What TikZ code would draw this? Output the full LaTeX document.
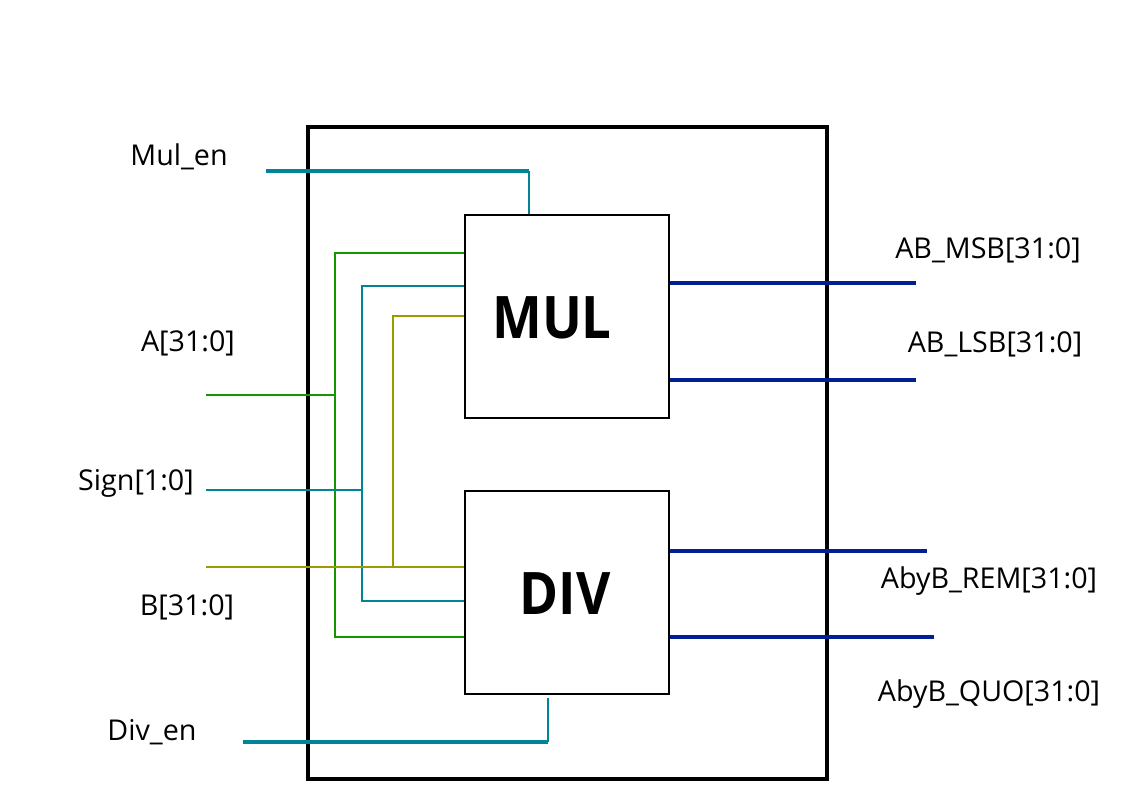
\documentclass[tikz,border=0pt]{standalone}
\usepackage{fontspec}
\setmainfont{Open Sans}
\begin{document}
\begin{tikzpicture}[x=0.75pt,y=-0.75pt,
  lbl/.style={font=\fontsize{21.5}{24}\selectfont, inner sep=0pt},
  unit/.style={draw=black, line width=1.2pt, fill=white, minimum width=153pt, minimum height=152.5pt, inner sep=0pt},
  big/.style={font=\bfseries\fontsize{44}{48}\selectfont, xscale=0.9},
  tealw/.style={draw=tealc, line width=1.6pt},
  tealk/.style={draw=tealc, line width=2.8pt},
  greenw/.style={draw=greenc, line width=2.1pt},
  olivew/.style={draw=olivec, line width=1.9pt},
  bluew/.style={draw=bluec, line width=2.7pt},
]
\definecolor{tealc}{RGB}{0,133,150}
\definecolor{greenc}{RGB}{20,150,0}
\definecolor{olivec}{RGB}{155,155,0}
\definecolor{bluec}{RGB}{0,32,145}
\useasboundingbox (0,0) rectangle (1123,794);
% outer block
\draw[line width=3pt] (308,127) rectangle (827,779);
% units
\node[unit] (mul) at (567,316.5) {};
\node[unit] (div) at (567,592.5) {};
\node[big] (tmul) at (552,318) {MUL};
\node[big] (tdivb) at (565,594) {DIV};
% free ends and junctions
\coordinate (mulen) at (266,171);
\coordinate (mulenc) at (529,171);
\coordinate (ain) at (206,395);
\coordinate (aj) at (335,395);
\coordinate (sin) at (206,490);
\coordinate (sj) at (362,490);
\coordinate (bin) at (206,567);
\coordinate (bj) at (393,567);
\coordinate (diven) at (243,742);
\coordinate (divenc) at (548,742);
\coordinate (o1) at (916,283);
\coordinate (o2) at (916,380);
\coordinate (o3) at (927,551);
\coordinate (o4) at (934,637);
% Mul_en
\draw[tealk] (mulen) -- (mulenc);
\draw[tealw, line width=1.3pt] (mulenc) -- (mulenc |- mul.north);
% Div_en
\draw[tealk] (diven) -- (divenc);
\draw[tealw, line width=1.3pt] (divenc) -- (548,698);
% A
\draw[greenw, line width=1.6pt] (ain) -- (aj);
\draw[greenw] (mul.west |- 0,253) -- (335,253) -- (335,637) -- (div.west |- 0,637);
% Sign
\draw[tealw, line width=1.4pt] (sin) -- (sj);
\draw[tealw] (mul.west |- 0,286) -- (362,286) -- (362,601) -- (div.west |- 0,601);
% B
\draw[olivew, line width=1.6pt] (bin) -- (div.west |- bin);
\draw[olivew] (mul.west |- 0,316) -- (393,316) -- (bj);
% outputs
\draw[bluew] (mul.east |- o1) -- (o1);
\draw[bluew] (mul.east |- o2) -- (o2);
\draw[bluew] (div.east |- o3) -- (o3);
\draw[bluew] (div.east |- o4) -- (o4);
% labels
\node[lbl] (tmulen) at (179,157) {Mul\_en};
\node[lbl] (ta) at (188,343) {A[31:0]};
\node[lbl] (ts) at (136,483) {Sign[1:0]};
\node[lbl] (tb) at (187,607) {B[31:0]};
\node[lbl] (tdiv) at (152,732) {Div\_en};
\node[lbl] (to1) at (988,250) {AB\_MSB[31:0]};
\node[lbl] (to2) at (995,344) {AB\_LSB[31:0]};
\node[lbl] (to3) at (989,581) {AbyB\_REM[31:0]};
\node[lbl] (to4) at (989,694) {AbyB\_QUO[31:0]};
\end{tikzpicture}
\end{document}
